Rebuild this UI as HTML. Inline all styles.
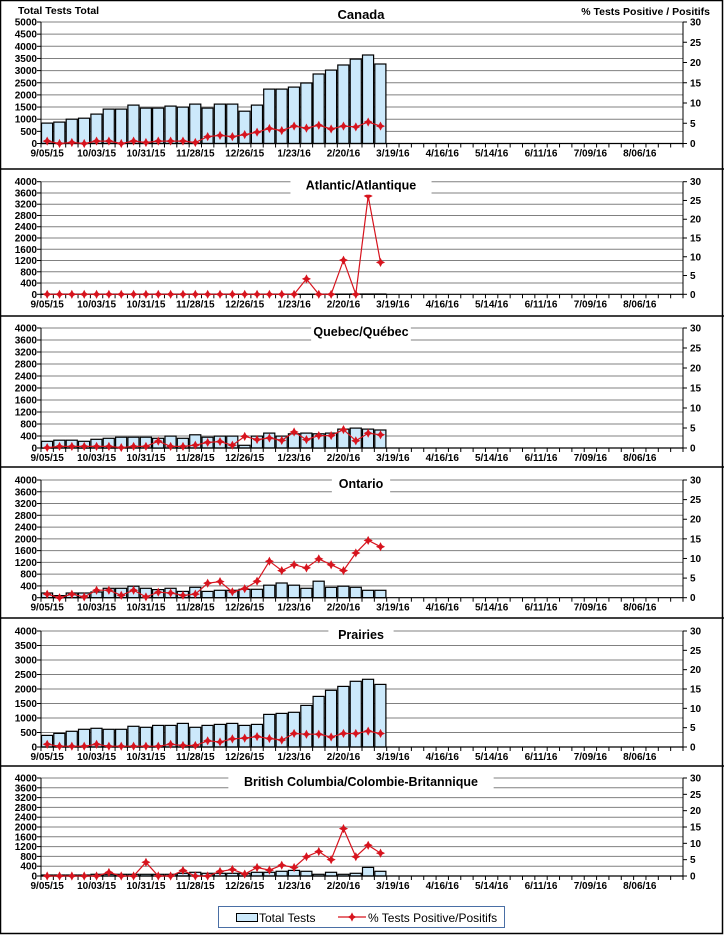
<!DOCTYPE html>
<html><head><meta charset="utf-8"><style>
html,body{margin:0;padding:0;background:#fff}
svg{display:block;font-family:"Liberation Sans",Arial,sans-serif}
</style></head><body>
<svg id="s" width="724" height="935" xmlns="http://www.w3.org/2000/svg"></svg>
<script>
const S=document.getElementById('s');
let h='';
h+='<rect x="0.5" y="0.5" width="722" height="933" fill="#fff" stroke="#000" stroke-width="1.5"/>';
[169,316,467,618,766].forEach(y=>h+=`<line x1="0" x2="724" y1="${y}" y2="${y}" stroke="#000" stroke-width="1.5"/>`);
const X0=41,X1=683,CW=(X1-X0)/52;
const dates=['9/05/15','10/03/15','10/31/15','11/28/15','12/26/15','1/23/16','2/20/16','3/19/16','4/16/16','5/14/16','6/11/16','7/09/16','8/06/16'];
const panels=[
{t:'Canada',top:22,bot:143.5,max:5000,step:500,title:'top',
b:[840,880,1000,1040,1210,1415,1415,1580,1455,1455,1540,1500,1620,1455,1620,1620,1330,1580,2240,2240,2320,2490,2860,3020,3230,3475,3640,3270],
p:[0.6,0,0.25,0,0.6,0.6,0,0.6,0.25,0.6,0.6,0.6,0.25,1.7,2.0,1.7,2.2,2.8,3.7,3.2,4.3,3.8,4.5,3.6,4.3,4.1,5.3,4.3]},
{t:'Atlantic/Atlantique',top:181.7,bot:294.3,max:4000,step:400,
b:[2,2,2,2,2,2,2,2,2,2,2,2,2,2,2,2,2,2,2,2,2,5,5,8,8,10,12,10],
p:[0,0,0,0,0,0,0,0,0,0,0,0,0,0,0,0,0,0,0,0,0,4.1,0,0,9.1,0,26.2,8.5]},
{t:'Quebec/Québec',top:328,bot:448,max:4000,step:400,
b:[225,260,260,225,290,325,360,360,360,325,395,325,440,360,395,395,90,395,495,395,475,495,475,495,630,665,630,600],
p:[0.1,0.4,0.4,0.4,0.4,0.4,0.1,0.4,0.4,1.7,0.4,0.4,0.7,1.4,1.6,0.7,2.9,2.1,2.5,1.9,4.0,2.1,3.1,3.1,4.6,1.8,3.7,3.3]},
{t:'Ontario',top:480,bot:597.7,max:4000,step:400,
b:[160,70,160,160,195,320,320,390,320,275,320,215,355,215,250,250,285,285,425,500,425,320,560,355,390,355,250,250],
p:[0.9,0,0.9,0.2,1.9,1.9,0.6,1.9,0.2,1.4,1.2,0.6,0.9,3.7,4.1,1.5,2.3,4.2,9.3,6.9,8.4,7.6,9.9,8.4,6.9,11.4,14.6,13.0]},
{t:'Prairies',top:631,bot:747,max:4000,step:500,
b:[400,470,540,610,645,610,610,715,680,745,745,815,680,745,780,815,745,780,1125,1160,1195,1435,1745,1955,2090,2265,2335,2160],
p:[0.7,0.2,0.2,0.2,0.7,0.2,0.2,0.2,0.2,0.2,0.7,0.4,0.4,1.6,1.3,2.1,2.3,2.7,2.2,1.8,3.5,3.3,3.3,2.6,3.5,3.5,4.1,3.5]},
{t:'British Columbia/Colombie-Britannique',top:778,bot:876,max:4000,step:400,
b:[40,40,40,40,70,70,70,70,70,70,70,110,150,110,110,110,110,150,150,190,230,190,70,150,70,110,350,190],
p:[0,0,0,0,0,1.1,0,0,4.2,0,0,1.7,0,0,1.4,2.0,0.6,2.6,1.8,3.3,2.6,5.9,7.5,5.0,14.5,5.9,9.4,7.0]}
];
function dia(x,y){return `<path d="M${x} ${y-3.5}L${x+1.2} ${y-1.2}L${x+3.5} ${y}L${x+1.2} ${y+1.2}L${x} ${y+3.5}L${x-1.2} ${y+1.2}L${x-3.5} ${y}L${x-1.2} ${y-1.2}Z" fill="#d7141e" stroke="#d7141e" stroke-width="1"/>`;}
panels.forEach(P=>{
 const H=P.bot-P.top;
 const Y=v=>P.bot-v/P.max*H;
 const YP=v=>P.bot-v/30*H;
 for(let v=0;v<=P.max;v+=P.step){const y=Y(v);
  if(v>0)h+=`<line x1="${X0}" x2="${X1}" y1="${y}" y2="${y}" stroke="#808080" stroke-width="1"/>`;
  h+=`<line x1="${X0-4}" x2="${X0}" y1="${y}" y2="${y}" stroke="#000"/>`;
  h+=`<text x="${X0-4}" y="${y+3.5}" font-size="10" font-weight="bold" text-anchor="end" fill="#000">${v}</text>`;}
 for(let v=0;v<=30;v+=5){const y=YP(v);
  h+=`<line x1="${X1}" x2="${X1+4}" y1="${y}" y2="${y}" stroke="#000"/>`;
  h+=`<text x="${X1+7}" y="${y+3.5}" font-size="10" font-weight="bold" fill="#000">${v}</text>`;}
 P.b.forEach((v,i)=>{const x=X0+CW*i+0.5,y=Y(v);
  h+=`<rect x="${x.toFixed(1)}" y="${y.toFixed(1)}" width="${(CW-1.2).toFixed(1)}" height="${(P.bot-y).toFixed(1)}" fill="#cce9fb" stroke="#000" stroke-width="1.2"/>`;});
 h+=`<line x1="${X0}" x2="${X1}" y1="${P.bot}" y2="${P.bot}" stroke="#000" stroke-width="1.2"/>`;
 h+=`<line x1="${X0}" x2="${X0}" y1="${P.top}" y2="${P.bot}" stroke="#000"/>`;
 h+=`<line x1="${X1}" x2="${X1}" y1="${P.top}" y2="${P.bot}" stroke="#000"/>`;
 for(let i=0;i<=52;i++){const x=X0+CW*i;h+=`<line x1="${x}" x2="${x}" y1="${P.bot}" y2="${P.bot+4}" stroke="#000"/>`;}
 dates.forEach((d,k)=>{const x=X0+CW*(4*k+0.5);
  h+=`<text x="${x}" y="${P.bot+13}" font-size="10" font-weight="bold" text-anchor="middle" fill="#000">${d}</text>`;});
 const pts=P.p.map((v,i)=>[X0+CW*(i+0.5),YP(v)]);
 h+=`<polyline points="${pts.map(p=>p[0].toFixed(1)+','+p[1].toFixed(1)).join(' ')}" fill="none" stroke="#d7141e" stroke-width="1.2"/>`;
 pts.forEach(p=>h+=dia(p[0],p[1]));
 if(P.title==='top'){
  h+=`<text x="361" y="19" font-size="13" font-weight="bold" text-anchor="middle" fill="#000">${P.t}</text>`;
 } else {
  const w=P.t.length*6.9+10;
  h+=`<rect x="${361-w/2}" y="${P.top-4}" width="${w}" height="17" fill="#fff"/>`;
  h+=`<text x="361" y="${P.top+8}" font-size="12.5" font-weight="bold" text-anchor="middle" fill="#000">${P.t}</text>`;
 }
});
h+=`<text x="18" y="14" font-size="10.5" font-weight="bold" fill="#000">Total Tests Total</text>`;
h+=`<text x="710" y="15" font-size="10.5" font-weight="bold" text-anchor="end" fill="#000">% Tests Positive / Positifs</text>`;
// legend
h+=`<rect x="218.5" y="906.5" width="286" height="21" fill="#fff" stroke="#4a6fa5" stroke-width="1"/>`;
h+=`<rect x="236.5" y="913.5" width="21" height="8" fill="#cce9fb" stroke="#000"/>`;
h+=`<text x="259" y="922" font-size="12" fill="#000">Total Tests</text>`;
h+=`<line x1="338" x2="366" y1="917" y2="917" stroke="#d7141e" stroke-width="1.2"/>`+dia(352,917);
h+=`<text x="368" y="922" font-size="12" fill="#000">% Tests Positive/Positifs</text>`;
S.innerHTML=h;
</script>
</body></html>
